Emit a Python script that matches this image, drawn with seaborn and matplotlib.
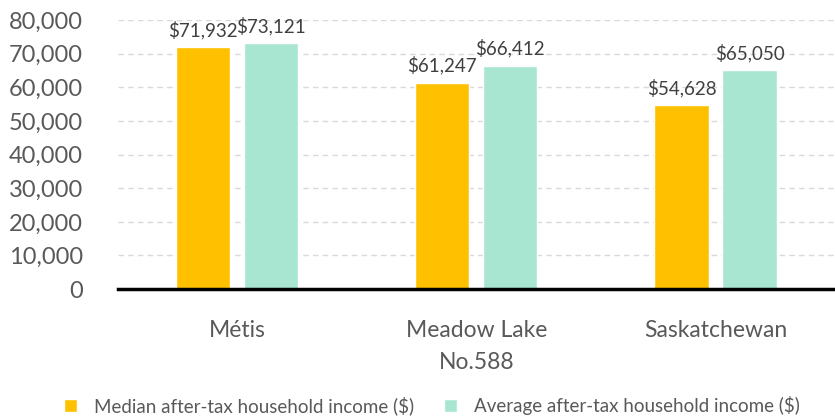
import pandas as pd
import matplotlib.pyplot as plt
import seaborn as sns
from matplotlib.ticker import FuncFormatter
from matplotlib.patches import Patch

# Data
regions = ['Métis', 'Meadow Lake\nNo.588', 'Saskatchewan']
series = ['Median after-tax household income ($)', 'Average after-tax household income ($)']
median_income = [71932, 61247, 54628]
average_income = [73121, 66412, 65050]
colors = ['#FFC000', '#A9E6D1']

df = pd.DataFrame({
    'region': regions * 2,
    'series': [series[0]] * 3 + [series[1]] * 3,
    'income': median_income + average_income,
})

sns.set_theme(style='white')
plt.rcParams['font.family'] = ['Lato', 'DejaVu Sans']
text_color = '#595959'

fig = plt.figure(figsize=(8.35, 4.19), dpi=100)
ax = fig.add_axes([0.141, 0.31, 0.859, 0.642])

sns.barplot(data=df, x='region', y='income', hue='series', palette=colors,
            width=0.569, gap=0.204, ax=ax, legend=False, saturation=1)

for cont in ax.containers:
    ax.bar_label(cont, labels=[f'${v:,.0f}' for v in cont.datavalues],
                 padding=6, fontsize=13.5, color='#404040')

ax.set_ylim(0, 80000)
ax.set_xlim(-0.5, 2.5)
ax.set_yticks(range(0, 80001, 10000))
ax.yaxis.set_major_formatter(FuncFormatter(lambda v, p: f'{v:,.0f}'))
ax.tick_params(axis='y', labelsize=17, colors=text_color, pad=25, length=0)
ax.tick_params(axis='x', labelsize=16.5, colors=text_color, pad=22, length=0)
for lab in ax.get_xticklabels():
    lab.set_linespacing(1.65)
ax.set_xlabel('')
ax.set_ylabel('')

ax.yaxis.grid(True, linestyle=(0, (4, 3)), color='#D9D9D9', linewidth=1)
ax.set_axisbelow(True)
for s in ['top', 'right', 'left']:
    ax.spines[s].set_visible(False)
ax.spines['bottom'].set_color('black')
ax.spines['bottom'].set_linewidth(2.5)
ax.spines['bottom'].set_zorder(5)

handles = [Patch(facecolor=c, label=s) for c, s in zip(colors, series)]
fig.legend(handles=handles, loc='center', bbox_to_anchor=(0.517, 0.032), ncol=2,
           frameon=False, fontsize=13.5, handlelength=0.7, handleheight=0.7,
           handletextpad=0.9, columnspacing=1.6, labelcolor=text_color)

fig.savefig('out.png', dpi=100)
